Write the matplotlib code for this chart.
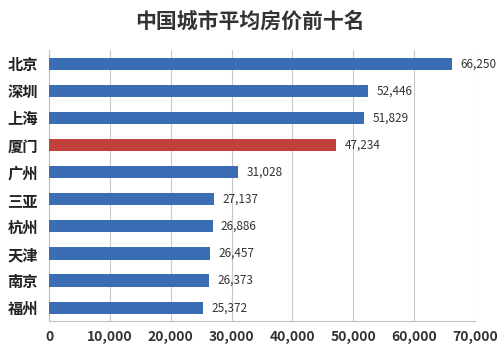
import matplotlib.pyplot as plt
import numpy as np

plt.rcParams['font.family'] = ['Noto Sans CJK SC', 'DejaVu Sans']

# 城市与平均房价
cities = ['北京', '深圳', '上海', '厦门', '广州', '三亚', '杭州', '天津', '南京', '福州']
prices = [66250, 52446, 51829, 47234, 31028, 27137, 26886, 26457, 26373, 25372]
highlight = '厦门'

colors = ['#c0403c' if c == highlight else '#3b6db4' for c in cities]

fig = plt.figure(figsize=(5, 3.53), dpi=100)
ax = fig.add_axes([0.098, 0.09, 0.852, 0.768])

y = np.arange(len(cities))
bars = ax.barh(y, prices, height=0.45, color=colors, zorder=3)
ax.set_ylim(len(cities) - 0.5, -0.5)
ax.set_xlim(0, 70000)
ax.set_xticks(np.arange(0, 70001, 10000))
ax.set_xticklabels([f'{v:,}' for v in range(0, 70001, 10000)],
                   fontsize=10, fontweight='bold', color='#333333')
ax.set_yticks(y)
ax.set_yticklabels(cities, fontsize=11, fontweight='bold', color='#222222')
ax.tick_params(length=0, pad=6)
ax.tick_params(axis='y', pad=8)

ax.grid(axis='x', color='#c8c8c8', linewidth=0.8, zorder=0)
for s in ['top', 'right']:
    ax.spines[s].set_visible(False)
for s in ['left', 'bottom']:
    ax.spines[s].set_color('#c0c0c0')

ax.bar_label(bars, labels=[f'{v:,}' for v in prices], padding=6,
             fontsize=8.5, color='#333333', fontweight='medium')

fig.suptitle('中国城市平均房价前十名', x=0.5, y=0.97, fontsize=15,
             fontweight='bold', color='#333333')

plt.savefig('out.png', dpi=100)
plt.close()
